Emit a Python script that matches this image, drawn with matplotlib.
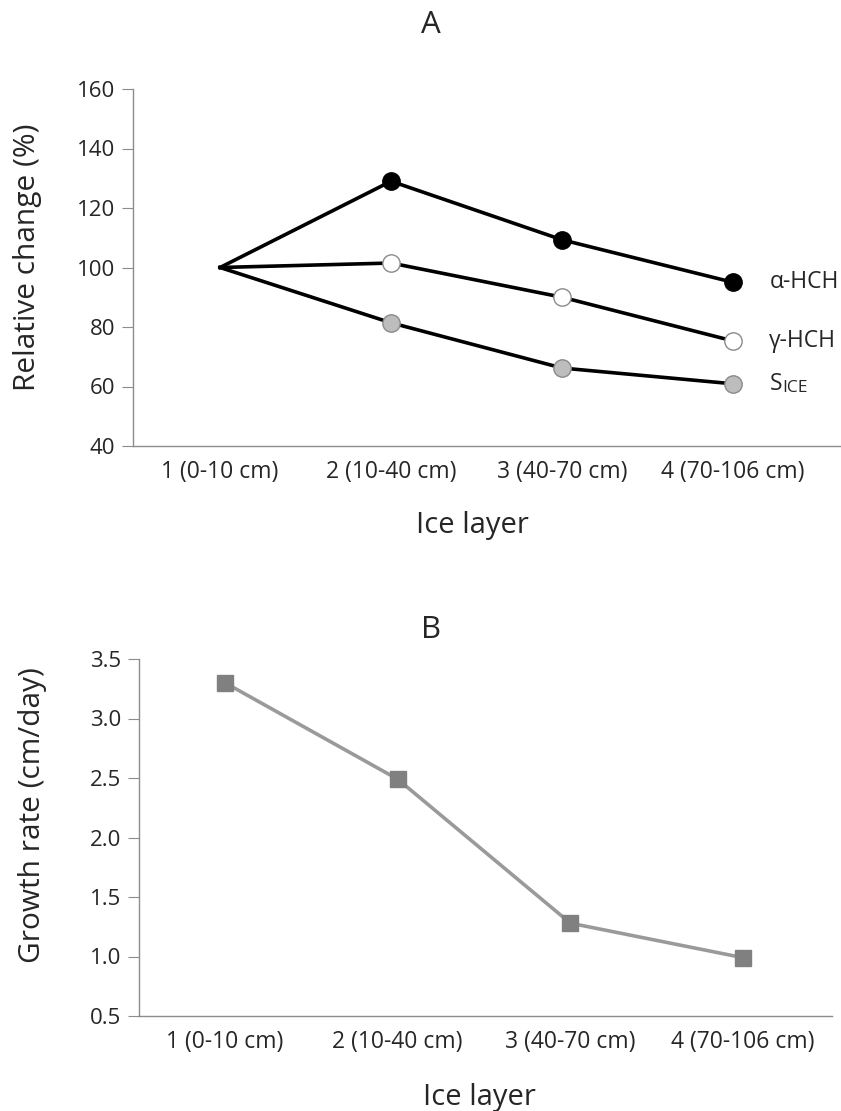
import matplotlib
matplotlib.use("Agg")
import matplotlib.pyplot as plt

plt.rcParams['font.family'] = ['Open Sans', 'DejaVu Sans']

# data
layers = ["1 (0-10 cm)", "2 (10-40 cm)", "3 (40-70 cm)", "4 (70-106 cm)"]
x = [1, 2, 3, 4]
alpha_hch = [100, 129, 109.3, 95]
gamma_hch = [100, 101.5, 90, 75.3]
s_ice = [100, 81.4, 66.2, 60.9]
growth = [3.30, 2.49, 1.28, 0.99]

W, H = 841, 1111
fig = plt.figure(figsize=(W / 100, H / 100), dpi=100)

spine_col = "#8c8c8c"
txt_col = "#262626"


def style(ax):
    for s in ["top", "right"]:
        ax.spines[s].set_visible(False)
    for s in ["left", "bottom"]:
        ax.spines[s].set_color(spine_col)
        ax.spines[s].set_linewidth(1.0)
    ax.tick_params(axis="y", length=8, width=0.8, color=spine_col, pad=5,
                   labelsize=16, labelcolor=txt_col)
    ax.tick_params(axis="x", length=0, pad=10, labelsize=16.5, labelcolor=txt_col)
    ax.set_xticks(x)
    ax.set_xticklabels(layers)


# ---- panel A
axA = fig.add_axes([133 / W, 1 - 446 / H, (841 - 133) / W, (446 - 89) / H])
style(axA)
line_kw = dict(color="black", lw=2.6, zorder=2)
axA.plot(x, alpha_hch, **line_kw)
axA.plot(x, gamma_hch, **line_kw)
axA.plot(x, s_ice, **line_kw)
ms = 12.5
axA.plot(x[1:], alpha_hch[1:], "o", ms=ms, mfc="black", mec="black", mew=1, zorder=3)
axA.plot(x[1:], gamma_hch[1:], "o", ms=ms, mfc="white", mec="#8a8a8a", mew=1, zorder=3)
axA.plot(x[1:], s_ice[1:], "o", ms=ms, mfc="#bdbdbd", mec="#8a8a8a", mew=1, zorder=3)
axA.set_xlim(0.491, 4.63)
axA.set_ylim(40, 160)
axA.set_yticks(range(40, 161, 20))

lab_kw = dict(textcoords="offset points", fontsize=16.5, color=txt_col, va="center", ha="left")
axA.annotate("α-HCH", xy=(4, alpha_hch[-1]), xytext=(26, 0), **lab_kw)
axA.annotate("γ-HCH", xy=(4, gamma_hch[-1]), xytext=(26, 0), **lab_kw)
t = axA.annotate("S", xy=(4, s_ice[-1]), xytext=(26, 0), **lab_kw)
axA.annotate("ICE", xy=(1, 0), xycoords=t, fontsize=12.5, color=txt_col, va="bottom", ha="left")

fig.text(28 / W, 1 - 257 / H, "Relative change (%)", fontsize=21.5, rotation=90,
         ha="center", va="center", color=txt_col)
fig.text(431 / W, 1 - 25 / H, "A", fontsize=22.5, ha="center", va="center", color=txt_col)
fig.text(472 / W, 1 - 525 / H, "Ice layer", fontsize=21, ha="center", va="center", color=txt_col)

# ---- panel B
axB = fig.add_axes([139 / W, 1 - 1016 / H, (832 - 139) / W, (1016 - 659) / H])
style(axB)
axB.plot(x, growth, color="#9a9a9a", lw=2.6, marker="s", ms=11, mfc="#808080",
         mec="#808080", zorder=3)
axB.set_xlim(0.502, 4.515)
axB.set_ylim(0.5, 3.5)
axB.set_yticks([0.5, 1.0, 1.5, 2.0, 2.5, 3.0, 3.5])
axB.set_yticklabels(["0.5", "1.0", "1.5", "2.0", "2.5", "3.0", "3.5"])

fig.text(33 / W, 1 - 815 / H, "Growth rate (cm/day)", fontsize=21.5, rotation=90,
         ha="center", va="center", color=txt_col)
fig.text(431 / W, 1 - 630 / H, "B", fontsize=22.5, ha="center", va="center", color=txt_col)
fig.text(479 / W, 1 - 1097 / H, "Ice layer", fontsize=21, ha="center", va="center", color=txt_col)

fig.savefig("out.png", dpi=100)
